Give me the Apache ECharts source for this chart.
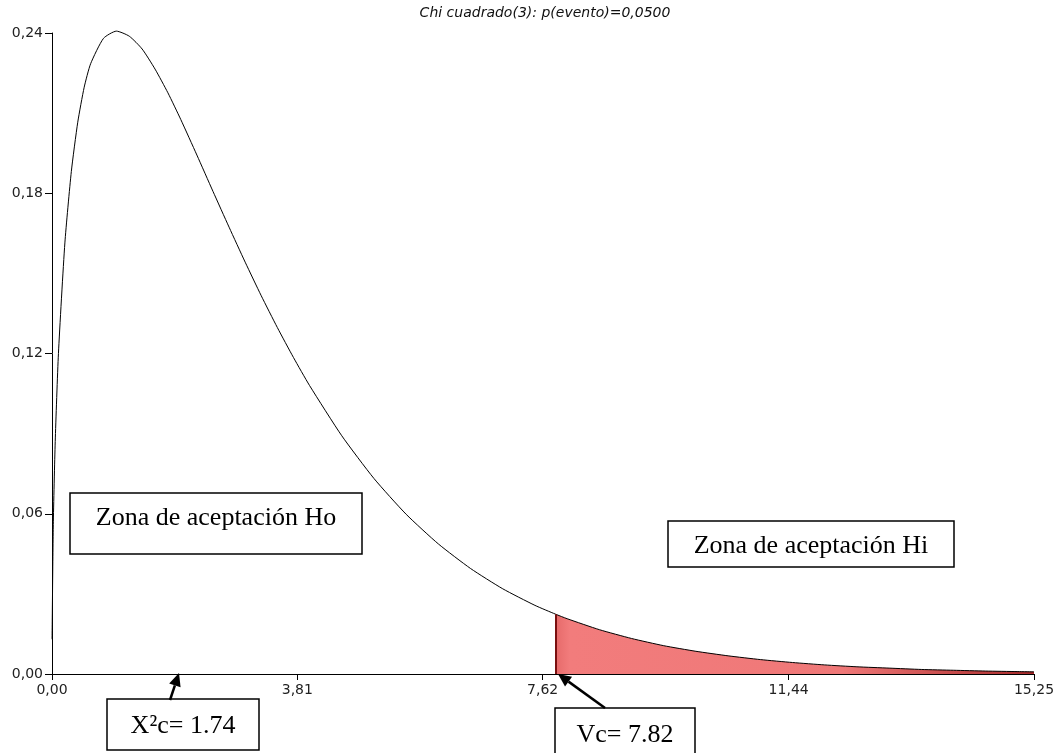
<!DOCTYPE html>
<html>
<head>
<meta charset="utf-8">
<script src="https://cdn.jsdelivr.net/npm/echarts@6/dist/echarts.min.js"></script>
<style>
html,body{margin:0;padding:0;background:#fff;}
#chart{width:1062px;height:753px;}
</style>
</head>
<body>
<div id="chart"></div>
<script>
// Values
var titleText = 'Chi cuadrado(3): p(evento)=0,0500';
var xValues = [0.001,0.02,0.05,0.1,0.2,0.3,0.4,0.5,0.6,0.8,1.0,1.2,1.4,1.6,1.8,2.0,2.25,2.5,2.75,3.0,3.25,3.5,3.75,4.0,4.5,5.0,5.5,6.0,6.5,7.0,7.5,7.82,8.0,8.5,9.0,9.5,10,10.5,11,11.5,12,12.5,13,13.5,14,14.5,15,15.25];
var yValues = [0.0130,0.0559,0.0870,0.1200,0.1614,0.1881,0.2066,0.2197,0.2285,0.2380,0.2407,0.2388,0.2340,0.2265,0.2176,0.2076,0.1943,0.1807,0.1673,0.1542,0.1416,0.1297,0.1185,0.1080,0.0892,0.0732,0.0598,0.0487,0.0395,0.0319,0.0257,0.0224,0.0207,0.0166,0.0133,0.0106,0.0085,0.0068,0.0054,0.0043,0.0034,0.0027,0.0022,0.0017,0.0014,0.0011,0.0009,0.0008];
var criticalValue = 7.82;
var xTickValues = [0, 3.81, 7.62, 11.44, 15.25];
var xTickLabels = ['0,00', '3,81', '7,62', '11,44', '15,25'];
var yTickLabels = ['0,00', '0,06', '0,12', '0,18', '0,24'];
var boxTexts = ['Zona de aceptación Ho', 'Zona de aceptación Hi', 'X²c= 1.74', 'Vc= 7.82'];

var curve = xValues.map(function (x, i) { return [x, yValues[i]]; });
var tail = curve.filter(function (p) { return p[0] >= criticalValue; });
var critY = yValues[xValues.indexOf(criticalValue)];

var chart = echarts.init(document.getElementById('chart'), null, {renderer: 'canvas'});

function box(x, y, w, h, txt, fs, dy) {
  return {
    type: 'group',
    children: [
      {type: 'rect', shape: {x: x, y: y, width: w, height: h},
       style: {fill: '#fff', stroke: '#000', lineWidth: 1.5}, z: 100},
      {type: 'text', x: x + w / 2, y: y + h / 2 + dy, z: 101,
       style: {text: txt, fill: '#000', font: fs + 'px "Liberation Serif", "Times New Roman", serif',
               textAlign: 'center', textVerticalAlign: 'middle'}}
    ]
  };
}
function arrow(x1, y1, x2, y2) {
  var ang = Math.atan2(y2 - y1, x2 - x1);
  var L = 13, W = 6;
  var bx = x2 - L * Math.cos(ang), by = y2 - L * Math.sin(ang);
  var px = -Math.sin(ang) * W, py = Math.cos(ang) * W;
  return {
    type: 'group',
    children: [
      {type: 'line', shape: {x1: x1, y1: y1, x2: bx, y2: by}, style: {stroke: '#000', lineWidth: 2.5}, z: 100},
      {type: 'polygon', shape: {points: [[x2, y2], [bx + px, by + py], [bx - px, by - py]]},
       style: {fill: '#000'}, z: 100}
    ]
  };
}

var axisFont = '"DejaVu Sans", Arial, sans-serif';

chart.setOption({
  animation: false,
  backgroundColor: '#fff',
  title: {
    text: titleText, left: 540, top: 1, textAlign: 'center',
    textStyle: {fontSize: 14, fontStyle: 'italic', fontWeight: 'normal', color: '#111', fontFamily: axisFont}
  },
  grid: {left: 52, right: 28, top: 33, bottom: 79, containLabel: false},
  xAxis: {
    type: 'value', min: 0, max: 15.25,
    axisLine: {show: true, lineStyle: {color: '#000', width: 1}},
    axisTick: {show: true, length: 6, lineStyle: {color: '#000'}, customValues: xTickValues},
    axisLabel: {
      customValues: xTickValues, color: '#222', fontSize: 14, fontFamily: axisFont, margin: 9,
      formatter: function (v) { var i = xTickValues.indexOf(v); return i >= 0 ? xTickLabels[i] : ''; }
    },
    splitLine: {show: false}
  },
  yAxis: {
    type: 'value', min: 0, max: 0.24, interval: 0.06,
    axisLine: {show: true, lineStyle: {color: '#000', width: 1}},
    axisTick: {show: true, length: 7, lineStyle: {color: '#000'}},
    axisLabel: {
      color: '#222', fontSize: 14, fontFamily: axisFont, margin: 9,
      formatter: function (v) { return yTickLabels[Math.round(v / 0.06)]; }
    },
    splitLine: {show: false}
  },
  series: [
    {
      type: 'line', data: tail, showSymbol: false, symbol: 'none', clip: false,
      lineStyle: {width: 0},
      areaStyle: {
        opacity: 1,
        color: new echarts.graphic.LinearGradient(0, 0, 1, 0, [
          {offset: 0, color: '#e66a6a'},
          {offset: 0.03, color: '#f27c7c'},
          {offset: 0.6, color: '#ef7878'},
          {offset: 1, color: '#a82a2a'}
        ])
      },
      markLine: {
        symbol: 'none', silent: true, label: {show: false},
        lineStyle: {color: '#7a1010', width: 2, type: 'solid'},
        data: [[{coord: [criticalValue, 0]}, {coord: [criticalValue, critY]}]]
      },
      z: 1
    },
    {
      type: 'line', data: curve, showSymbol: false, symbol: 'none', smooth: 0.2, clip: false,
      lineStyle: {color: '#000', width: 1}, z: 3
    }
  ],
  graphic: [
    box(70, 493, 292, 61, boxTexts[0], 26, -5),
    box(668, 521, 286, 46, boxTexts[1], 26, 2),
    box(107, 699, 152, 51, boxTexts[2], 26, 2),
    box(555, 708, 140, 50, boxTexts[3], 26, 2),
    arrow(170, 700, 179, 673),
    arrow(605, 708, 558, 674)
  ]
});
</script>
</body>
</html>
